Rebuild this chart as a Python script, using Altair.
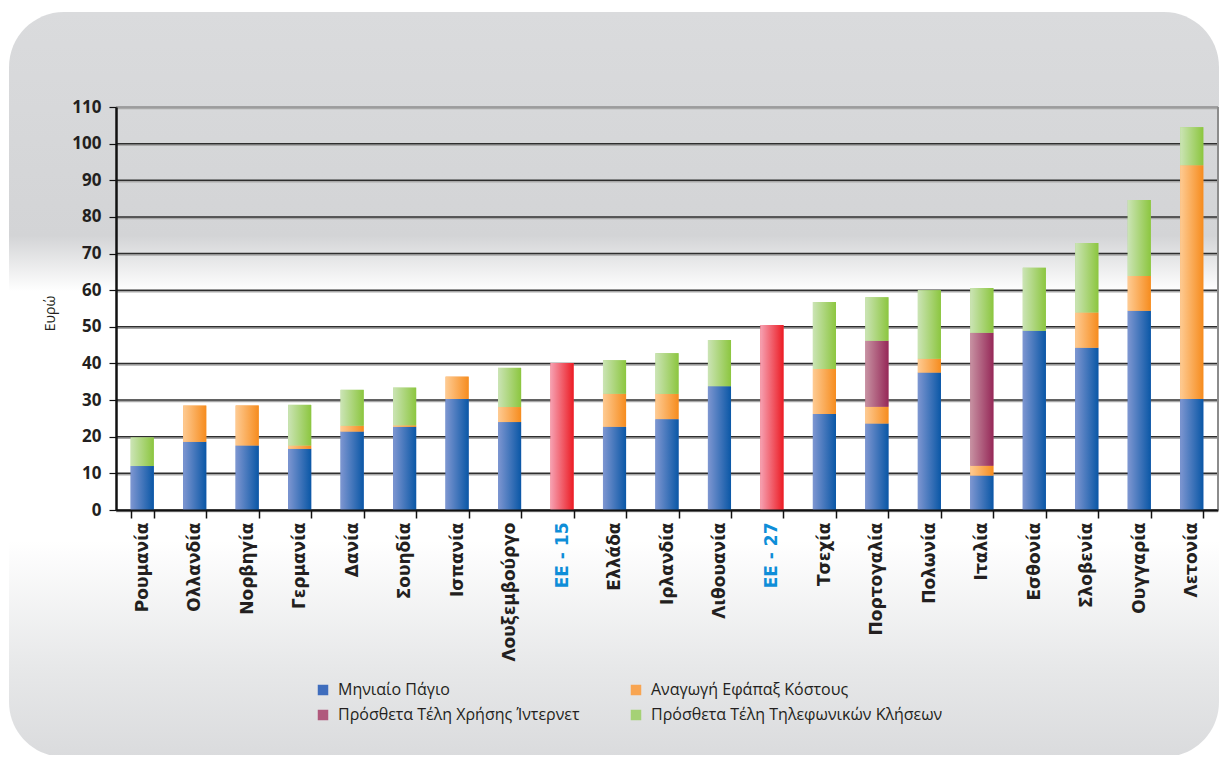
import altair as alt
import pandas as pd

countries = ["Ρουμανία", "Ολλανδία", "Νορβηγία", "Γερμανία", "Δανία", "Σουηδία",
             "Ισπανία", "Λουξεμβούργο", "ΕΕ - 15", "Ελλάδα", "Ιρλανδία", "Λιθουανία",
             "ΕΕ - 27", "Τσεχία", "Πορτογαλία", "Πολωνία", "Ιταλία", "Εσθονία",
             "Σλοβενία", "Ουγγαρία", "Λετονία"]

monthly = [12.0, 18.6, 17.6, 16.7, 21.4, 22.7, 30.3, 24.0, 0, 22.7, 24.8, 33.8,
           0, 26.2, 23.6, 37.5, 9.4, 48.9, 44.3, 54.4, 30.3]
onetime = [0, 9.9, 10.9, 0.9, 1.6, 0.4, 6.1, 4.1, 0, 9.0, 6.9, 0,
           0, 12.3, 4.6, 3.8, 2.7, 0, 9.6, 9.5, 63.8]
internet = [0, 0, 0, 0, 0, 0, 0, 0, 0, 0, 0, 0,
            0, 0, 18.0, 0, 36.3, 0, 0, 0, 0]
calls = [7.8, 0, 0, 11.1, 9.8, 10.3, 0, 10.7, 0, 9.2, 11.1, 12.6,
         0, 18.3, 11.9, 18.7, 12.2, 17.2, 19.0, 20.7, 10.4]
eu_average = [0, 0, 0, 0, 0, 0, 0, 0, 40.1, 0, 0, 0,
              50.5, 0, 0, 0, 0, 0, 0, 0, 0]

# stacking order (bottom to top)
series_names = ["Μηνιαίο Πάγιο", "Αναγωγή Εφάπαξ Κόστους",
                "Πρόσθετα Τέλη Χρήσης Ίντερνετ", "Πρόσθετα Τέλη Τηλεφωνικών Κλήσεων",
                "Μέσος όρος ΕΕ"]
solid_colors = {"Μηνιαίο Πάγιο": "#3f6dbd", "Αναγωγή Εφάπαξ Κόστους": "#f8a552",
                "Πρόσθετα Τέλη Χρήσης Ίντερνετ": "#b0597c",
                "Πρόσθετα Τέλη Τηλεφωνικών Κλήσεων": "#a5d175",
                "Μέσος όρος ΕΕ": "#f04a5a"}
gradient_pairs = [("#7e96d1", "#0a57a6"), ("#fecb93", "#f68c1e"),
                  ("#c792a2", "#962858"), ("#cbe4b5", "#8cc63f"),
                  ("#f6a1b2", "#ec1c24")]
# legend order (legend fills column by column)
legend_order = ["Μηνιαίο Πάγιο", "Πρόσθετα Τέλη Χρήσης Ίντερνετ",
                "Αναγωγή Εφάπαξ Κόστους", "Πρόσθετα Τέλη Τηλεφωνικών Κλήσεων",
                "Μέσος όρος ΕΕ"]
y_ticks = list(range(0, 111, 10))

rows = []
for i, c in enumerate(countries):
    base = 0.0
    for name, vals in zip(series_names, [monthly, onetime, internet, calls, eu_average]):
        v = vals[i]
        if v > 0:
            rows.append({"country": c, "series": name, "y0": base, "y1": base + v})
            base += v
df = pd.DataFrame(rows)
grid_df = pd.DataFrame({"y0": y_ticks})
one_df = pd.DataFrame({"k": [0]})

x_enc = alt.X(
    "country:N", sort=countries,
    scale=alt.Scale(paddingInner=0.56, paddingOuter=0.28),
    axis=alt.Axis(
        title=None, labelAngle=-90, labelFont="DejaVu Sans", labelFontWeight="bold",
        labelFontSize=17, labelPadding=4, labelLimit=300,
        labelColor={"condition": {"test": "indexof(datum.label, 'ΕΕ') === 0", "value": "#0e8ed8"},
                    "value": "#231f20"},
        tickBand="extent", tickSize=8, tickColor="#111111", tickWidth=1.5,
        domainColor="#111111", domainWidth=2, grid=False, zindex=1),
)
y_enc = alt.Y(
    "y0:Q", scale=alt.Scale(domain=[0, 110], nice=False),
    axis=alt.Axis(
        values=y_ticks, title="Ευρώ", titleFont="Open Sans", titleFontWeight="normal",
        titleFontSize=14, titleColor="#231f20", titleX=-66, titleY=206,
        titleAlign="center", titleBaseline="middle",
        labelFont="Open Sans", labelFontWeight="bold", labelFontSize=17,
        labelColor="#231f20", labelPadding=8, tickSize=7, tickColor="#111111",
        tickWidth=1.2, domainColor="#111111", domainWidth=2.5, grid=False, zindex=1),
)

bg_fill = alt.LinearGradient(
    gradient="linear", x1=0, y1=0, x2=0, y2=1,
    stops=[alt.GradientStop(offset=0.0, color="#dadbdd"),
           alt.GradientStop(offset=0.30, color="#d3d4d6"),
           alt.GradientStop(offset=0.375, color="#ffffff"),
           alt.GradientStop(offset=0.71, color="#ffffff"),
           alt.GradientStop(offset=0.88, color="#e7e8e9"),
           alt.GradientStop(offset=1.0, color="#dadbdd")])
bg = alt.Chart(one_df).mark_rect(fill=bg_fill, cornerRadius=55).encode(
    x=alt.value(-107), x2=alt.value(1103), y=alt.value(-95), y2=alt.value(650))

grid_shadow = alt.Chart(grid_df).mark_rule(color="#a9a9a9", strokeWidth=1.5, yOffset=1.5).encode(
    y=y_enc, x=alt.value(0), x2=alt.value("width"))
grid = alt.Chart(grid_df).mark_rule(strokeWidth=1.5).encode(
    y=y_enc, x=alt.value(0), x2=alt.value("width"),
    color=alt.condition(alt.datum.y0 == 110, alt.value("#8c8c8c"), alt.value("#2e2e2e")))
border = alt.Chart(one_df).mark_rule(color="#8c8c8c", strokeWidth=2).encode(
    x=alt.value("width"), y=alt.value(0), y2=alt.value("height"))

base_bars = alt.Chart(df).mark_bar().encode(
    x=x_enc, y=y_enc, y2="y1:Q",
    color=alt.Color("series:N",
                    scale=alt.Scale(domain=legend_order,
                                    range=[solid_colors[n] for n in legend_order]),
                    legend=alt.Legend(
                        title=None, orient="none", legendX=199, legendY=575,
                        columns=2, values=legend_order[:4], symbolType="square",
                        symbolSize=110, symbolStrokeWidth=0, labelFont="Open Sans",
                        labelFontSize=16, labelColor="#231f20", columnPadding=48,
                        rowPadding=9, labelOffset=7, labelLimit=400, zindex=1)))

grad_layers = []
for name, (c1, c2) in zip(series_names, gradient_pairs):
    fill = alt.LinearGradient(
        gradient="linear", x1=0, y1=0, x2=1, y2=0,
        stops=[alt.GradientStop(offset=0, color=c1), alt.GradientStop(offset=1, color=c2)])
    grad_layers.append(
        alt.Chart(df).transform_filter(alt.datum.series == name)
        .mark_bar(fill=fill).encode(x=x_enc, y=y_enc, y2="y1:Q"))

chart = alt.layer(bg, grid_shadow, grid, border, base_bars, *grad_layers).properties(
    width=1102, height=403,
    autosize=alt.AutoSizeParams(type="none"),
    padding={"left": 108, "top": 99, "right": 1, "bottom": 245},
).configure_view(strokeWidth=0)

chart.save("out.html", embed_options={"renderer": "svg", "actions": False})
